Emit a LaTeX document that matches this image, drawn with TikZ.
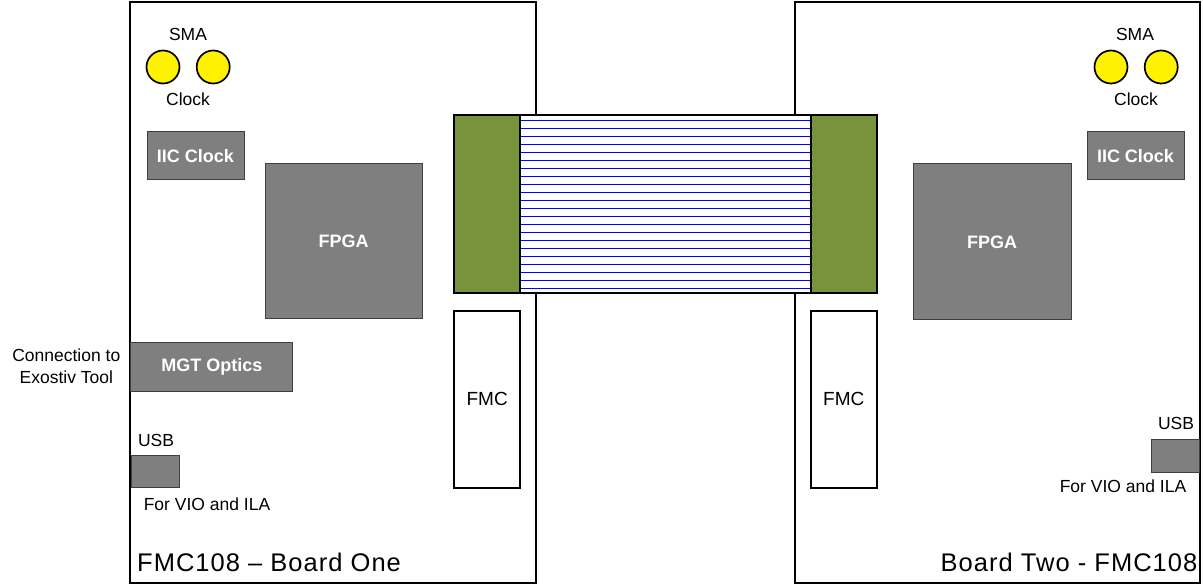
\documentclass[tikz,border=0pt]{standalone}
\usepackage{fontspec}
\setmainfont{Liberation Sans}
\newfontfamily\boardfont{Liberation Sans}[LetterSpace=4]
\usepackage{xcolor}
\usetikzlibrary{positioning}
\definecolor{chipgray}{HTML}{7F7F7F}
\definecolor{chipedge}{HTML}{3F3F3F}
\definecolor{fmcgreen}{HTML}{77933C}
\definecolor{wireblue}{HTML}{0000FF}

\begin{document}
\begin{tikzpicture}[x=1pt,y=-1pt,
  board/.style={draw,line width=2pt,fill=white,inner sep=0pt},
  chip/.style={draw=chipedge,line width=1pt,fill=chipgray,text=white,inner sep=0pt,
    font=\fontsize{18}{21}\selectfont\bfseries},
  plug/.style={draw,line width=2pt,fill=fmcgreen,inner sep=0pt,
    minimum width=65.7pt,minimum height=178pt},
  slot/.style={draw,line width=2pt,fill=white,inner sep=0pt,
    minimum width=65.7pt,minimum height=177pt,font=\fontsize{19}{22}\selectfont},
  sma/.style={circle,draw,line width=1.7pt,fill=yellow,inner sep=0pt,minimum size=33pt},
  wire/.style={wireblue,line width=1pt},
  lbl/.style={inner sep=0pt,font=\fontsize{17.5}{21.7}\selectfont},
  title/.style={inner sep=0pt,font=\boardfont\fontsize{25.5}{30}\selectfont}]
  \useasboundingbox (0,0) rectangle (1203,588);

  % the two boards
  \node[board,minimum width=406pt,minimum height=581pt] (board1) at (333,292.5) {};
  \node[board,minimum width=405pt,minimum height=581pt] (board2) at (997.5,292.5) {};

  % ribbon cable between the FMC plugs
  \node[board,minimum width=291pt,minimum height=178pt] (cable) at (665.5,204.2) {};
  \foreach \i in {0,...,21}
    \draw[wire] (521,{120.3+8*\i}) -- (810,{120.3+8*\i});
  \node[plug] (plug1) at (487.2,204.2) {};
  \node[plug] (plug2) at (843.8,204.2) {};

  % FMC slots
  \node[slot] (fmc1) at (487.2,399.2) {FMC};
  \node[slot] (fmc2) at (843.8,399.2) {FMC};

  % board one
  \node[sma] (sma1a) at (163,67) {};
  \node[sma] (sma1b) [right = 15.5pt of sma1a] {};
  \node[lbl] (smatxt1) at (188,34) {SMA};
  \node[lbl] (clktxt1) at (188,99) {Clock};
  \node[chip,minimum width=97pt,minimum height=48pt] (iic1) at (195.5,156) {IIC Clock};
  \node[chip,minimum width=157pt,minimum height=155pt] (fpga1) at (343.5,241.5) {FPGA};
  \node[chip,minimum width=162pt,minimum height=49pt] (mgt1) at (211.8,366.5) {MGT Optics};
  \node[lbl,align=center] (conn1) at (66.3,366) {Connection to\\Exostiv Tool};
  \node[lbl] (usbtxt1) at (156,440) {USB};
  \node[chip,minimum width=48.3pt,minimum height=32pt] (usb1) at (155.2,471.7) {};
  \node[lbl] (viotxt1) at (207,504) {For VIO and ILA};
  \node[title,anchor=base west] (name1) at (137,571.7) {FMC108 – Board One};

  % board two
  \node[sma] (sma2a) at (1111,67) {};
  \node[sma] (sma2b) [right = 15.5pt of sma2a] {};
  \node[lbl] (smatxt2) at (1135,34) {SMA};
  \node[lbl] (clktxt2) at (1136,99) {Clock};
  \node[chip,minimum width=97pt,minimum height=48pt] (iic2) at (1135.5,156) {IIC Clock};
  \node[chip,minimum width=158pt,minimum height=156pt] (fpga2) at (992,242) {FPGA};
  \node[lbl] (usbtxt2) at (1176,423) {USB};
  \node[chip,minimum width=48pt,minimum height=33pt] (usb2) at (1175,455.5) {};
  \node[lbl] (viotxt2) at (1123,486.5) {For VIO and ILA};
  \node[title,anchor=base east] (name2) at (1197.5,571.7) {Board Two - FMC108};
\end{tikzpicture}
\end{document}
